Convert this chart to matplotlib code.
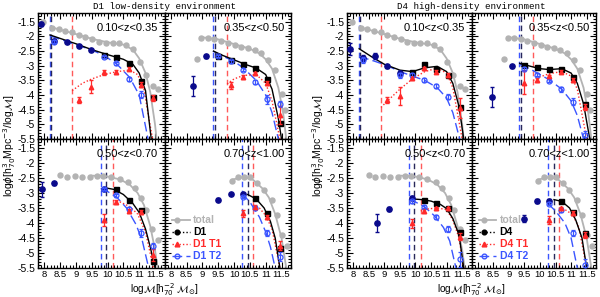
"""
Funciones de masa por entorno (D1 / D4) en cuatro bines de redshift.
"""
import numpy as np
import matplotlib
matplotlib.use("Agg")
import matplotlib.pyplot as plt
from matplotlib.ticker import MultipleLocator, FuncFormatter

nan = np.nan

ZBINS = ["0.10<z<0.35", "0.35<z<0.50", "0.50<z<0.70", "0.70<z<1.00"]
ENVS = ["D1", "D4"]
TITLES = ["D1 low-density environment", "D4 high-density environment"]

# función de masa total (gris), la misma en los dos entornos
TOT_X = [
    [7.95, 8.24, 8.45, 8.66, 8.88, 9.09, 9.30, 9.52, 9.73, 9.94, 10.16, 10.37, 10.58, 10.80, 11.01, 11.22, 11.43, 11.6],
    [8.84, 8.96, 9.17, 9.38, 9.59, 9.81, 10.02, 10.23, 10.44, 10.65, 10.86, 11.08, 11.29, 11.5, 11.62],
    [8.5, 8.71, 8.97, 9.18, 9.44, 9.67, 9.85, 10.12, 10.38, 10.65, 10.86, 11.07, 11.23, 11.42, 11.6],
    [9.95, 10.13, 10.32, 10.51, 10.73, 10.94, 11.2, 11.36, 11.52, 11.68],
]
TOT_Y = [
    [-1.5, -1.72, -1.76, -1.80, -1.86, -1.95, -2.03, -2.10, -2.18, -2.21, -2.24, -2.24, -2.29, -2.44, -2.86, -3.3, -3.7, -3.78],
    [-2.78, -2.07, -2.07, -2.1, -2.14, -2.21, -2.29, -2.35, -2.41, -2.46, -2.58, -2.8, -3.15, -3.95, -4.5],
    [-2.4, -2.48, -2.43, -2.45, -2.45, -2.43, -2.43, -2.48, -2.54, -2.62, -2.84, -3.18, -3.57, -4.2, -4.55],
    [-2.59, -2.48, -2.46, -2.48, -2.68, -2.9, -3.23, -3.73, -4.4, -4.75],
]
TOT_FIT_X = [
    [8.2, 8.6, 9.0, 9.5, 10.0, 10.5, 10.8, 11.0, 11.2, 11.35, 11.5, 11.55],
    [9.0, 9.5, 10.0, 10.5, 10.8, 11.0, 11.2, 11.4, 11.55, 11.65],
    [9.5, 10.0, 10.4, 10.7, 10.95, 11.15, 11.35, 11.5, 11.58],
    [9.95, 10.3, 10.6, 10.9, 11.1, 11.3, 11.5, 11.65],
]
TOT_FIT_Y = [
    [-1.68, -1.8, -1.92, -2.08, -2.2, -2.28, -2.45, -2.75, -3.25, -3.9, -5.0, -5.5],
    [-2.03, -2.1, -2.26, -2.42, -2.58, -2.78, -3.1, -3.75, -4.6, -5.5],
    [-2.42, -2.45, -2.55, -2.72, -3.0, -3.4, -4.1, -4.9, -5.5],
    [-2.55, -2.47, -2.56, -2.85, -3.15, -3.7, -4.5, -5.5],
]
# límites de completitud: azul (T2), negro (todas), rojo (T1)
LIM_T2 = [8.17, 9.33, 9.78, 10.25]
LIM_ALL = [8.21, 9.39, 9.94, 10.45]
LIM_T1 = [8.88, 9.78, 10.17, 10.6]

# puntos por debajo de la completitud (azul oscuro), claves "D1_0" ... "D4_3"
LOW_X = {
    "D1_0": [7.89, 8.3, 8.71, 9.1, 9.49], "D1_1": [8.71, 9.1],
    "D1_2": [7.93, 8.3, 9.89], "D1_3": [9.49, 9.89, 10.28],
    "D4_0": [7.9, 8.3, 8.71, 9.1, 9.49], "D4_1": [8.45, 9.1],
    "D4_2": [8.75, 9.15, 9.89], "D4_3": [9.49, 9.89, 10.28],
}
LOW_Y = {
    "D1_0": [-1.59, -2.15, -2.18, -2.32, -2.46], "D1_1": [-3.69, -2.67],
    "D1_2": [-2.88, -2.68, -2.87], "D1_3": [-3.23, -3.03, -3.03],
    "D4_0": [-2.44, -2.75, -2.67, -3.01, -3.25], "D4_1": [-4.06, -3.01],
    "D4_2": [-4.01, -3.54, -3.15], "D4_3": [-3.85, -3.26, -3.26],
}
LOW_E = {
    "D1_0": [0.07, 0.06, 0.03, 0.03, 0.03], "D1_1": [0.35, 0.05],
    "D1_2": [0.25, 0.04, 0.04], "D1_3": [0.05, 0.03, 0.03],
    "D4_0": [0.2, 0.1, 0.1, 0.05, 0.06], "D4_1": [0.35, 0.05],
    "D4_2": [0.3, 0.06, 0.06], "D4_3": [0.12, 0.06, 0.05],
}

# puntos del entorno: todas (negro), T1 (rojo), T2 (azul abierto)
PTS_X = {
    "D1_0": [8.3, 8.71, 9.1, 9.49, 9.89, 10.28, 10.67, 11.05, 11.44],
    "D1_1": [9.49, 9.89, 10.28, 10.67, 11.05, 11.44],
    "D1_2": [9.89, 10.28, 10.67, 11.05, 11.44],
    "D1_3": [10.28, 10.67, 11.05, 11.44],
    "D4_0": [8.3, 8.71, 9.1, 9.49, 9.89, 10.28, 10.67, 11.05, 11.44],
    "D4_1": [9.49, 9.89, 10.28, 10.67, 11.05, 11.44],
    "D4_2": [9.89, 10.28, 10.67, 11.05, 11.44],
    "D4_3": [10.28, 10.67, 11.05, 11.44],
}
ALL_Y = {
    "D1_0": [nan, nan, nan, nan, -2.63, -2.71, -2.92, -3.52, -4.08],
    "D1_1": [-2.67, -2.80, -2.94, -3.09, -3.45, -4.94],
    "D1_2": [nan, -2.87, -3.22, -3.57, -5.27],
    "D1_3": [nan, -3.16, -3.66, -4.84],
    "D4_0": [nan, nan, nan, nan, -3.2, -2.94, -3.12, -3.32, -4.42],
    "D4_1": [-2.97, -3.03, -3.12, -3.12, -3.4, -4.3],
    "D4_2": [nan, -3.23, -3.32, -3.51, -4.29],
    "D4_3": [nan, -3.26, -3.62, -4.32],
}
T1_Y = {
    "D1_0": [nan, nan, -4.17, -3.72, -3.23, -3.2, -3.1, -3.65, -4.1],
    "D1_1": [nan, -3.66, -3.39, -3.26, -3.58, -4.68],
    "D1_2": [-3.9, -3.29, -3.6, -3.64, -5.07],
    "D1_3": [-3.68, -3.46, -3.79, -4.75],
    "D4_0": [nan, nan, -4.17, -4.03, -3.43, -3.09, -3.2, -3.32, -4.45],
    "D4_1": [-3.58, -3.49, -3.35, -3.2, -3.49, -4.4],
    "D4_2": [-4.0, -3.6, -3.51, -3.51, -4.46],
    "D4_3": [-3.9, -3.51, -3.66, -4.4],
}
T1_E = {
    "D1_0": [0, 0, 0.1, 0.22, 0.07, 0.07, 0.06, 0.08, 0.1],
    "D1_1": [0, 0.12, 0.06, 0.05, 0.07, 0.3],
    "D1_2": [0.2, 0.07, 0.06, 0.07, 0.2],
    "D1_3": [0.12, 0.06, 0.07, 0.15],
    "D4_0": [0, 0, 0.1, 0.3, 0.06, 0.05, 0.06, 0.07, 0.35],
    "D4_1": [0.4, 0.06, 0.05, 0.05, 0.06, 0.1],
    "D4_2": [0.15, 0.07, 0.06, 0.06, 0.12],
    "D4_3": [0.12, 0.06, 0.06, 0.1],
}
T2_Y = {
    "D1_0": [-2.18, nan, nan, nan, -2.71, -2.92, -3.45, -3.99, nan],
    "D1_1": [-2.67, -2.85, -3.13, -3.55, -4.15, -4.3],
    "D1_2": [-2.87, -3.08, -3.52, -4.33, -4.75],
    "D1_3": [-3.14, -3.5, -4.32, -5.12],
    "D4_0": [-2.8, nan, nan, -3.33, -3.33, -3.49, -3.69, -4.05, nan],
    "D4_1": [-3.1, -3.3, -3.51, -3.8, -4.23, -5.36],
    "D4_2": [-3.27, -3.46, -3.81, -4.21, -5.2],
    "D4_3": [-3.36, -3.57, -4.34, -5.4],
}
T2_E = {
    "D1_0": [0.05, 0, 0, 0, 0.04, 0.05, 0.07, 0.12, 0],
    "D1_1": [0.04, 0.04, 0.05, 0.07, 0.15, 0.1],
    "D1_2": [0.04, 0.05, 0.07, 0.12, 0.1],
    "D1_3": [0.04, 0.06, 0.1, 0.15],
    "D4_0": [0.1, 0, 0, 0.08, 0.08, 0.07, 0.08, 0.1, 0],
    "D4_1": [0.05, 0.06, 0.06, 0.08, 0.12, 0.15],
    "D4_2": [0.05, 0.05, 0.07, 0.1, 0.25],
    "D4_3": [0.05, 0.06, 0.1, 0.2],
}

# ajustes (curvas)
ALL_FIT_X = {
    "D1_0": [8.18, 9.0, 9.5, 10.0, 10.5, 10.8, 11.0, 11.2, 11.38],
    "D1_1": [9.35, 9.6, 10.0, 10.4, 10.7, 11.0, 11.2, 11.4, 11.5],
    "D1_2": [9.94, 10.2, 10.5, 10.8, 11.0, 11.2, 11.35, 11.5],
    "D1_3": [10.43, 10.7, 10.95, 11.15, 11.3, 11.45],
    "D4_0": [8.19, 8.6, 9.0, 9.5, 9.9, 10.3, 10.7, 11.0, 11.2, 11.4, 11.55],
    "D4_1": [9.35, 9.7, 10.0, 10.3, 10.7, 11.0, 11.2, 11.4, 11.6],
    "D4_2": [9.94, 10.2, 10.5, 10.8, 11.0, 11.2, 11.4, 11.55],
    "D4_3": [10.45, 10.7, 10.95, 11.15, 11.35, 11.5],
}
ALL_FIT_Y = {
    "D1_0": [-1.95, -2.25, -2.45, -2.62, -2.78, -2.95, -3.25, -3.85, -5.5],
    "D1_1": [-2.5, -2.63, -2.8, -2.97, -3.08, -3.3, -3.8, -4.8, -5.5],
    "D1_2": [-2.83, -2.88, -3.05, -3.35, -3.65, -4.2, -4.8, -5.5],
    "D1_3": [-3.05, -3.2, -3.5, -3.95, -4.5, -5.5],
    "D4_0": [-2.42, -2.7, -2.95, -3.15, -3.2, -3.07, -3.02, -3.2, -3.6, -4.4, -5.5],
    "D4_1": [-2.92, -3.02, -3.1, -3.13, -3.1, -3.25, -3.6, -4.3, -5.5],
    "D4_2": [-3.2, -3.22, -3.27, -3.38, -3.52, -3.85, -4.4, -5.5],
    "D4_3": [-3.22, -3.28, -3.5, -3.9, -4.5, -5.5],
}
T1_FIT_X = {
    "D1_0": [8.88, 9.2, 9.5, 9.9, 10.3, 10.7, 10.95, 11.15, 11.42],
    "D1_1": [9.78, 10.0, 10.3, 10.7, 11.0, 11.2, 11.45],
    "D1_2": [10.17, 10.4, 10.7, 10.95, 11.2, 11.45],
    "D1_3": [10.6, 10.8, 11.0, 11.2, 11.45],
    "D4_0": [8.89, 9.2, 9.5, 9.9, 10.3, 10.7, 11.0, 11.2, 11.5],
    "D4_1": [9.78, 10.0, 10.3, 10.7, 11.0, 11.2, 11.5],
    "D4_2": [10.17, 10.4, 10.7, 11.0, 11.2, 11.4, 11.55],
    "D4_3": [10.6, 10.8, 11.05, 11.25, 11.5],
}
T1_FIT_Y = {
    "D1_0": [-3.85, -3.6, -3.45, -3.3, -3.2, -3.15, -3.3, -3.8, -5.5],
    "D1_1": [-3.62, -3.45, -3.33, -3.3, -3.6, -4.2, -5.5],
    "D1_2": [-3.25, -3.3, -3.45, -3.7, -4.3, -5.5],
    "D1_3": [-3.4, -3.5, -3.75, -4.2, -5.5],
    "D4_0": [-4.42, -4.1, -3.8, -3.45, -3.2, -3.08, -3.25, -3.75, -5.5],
    "D4_1": [-3.5, -3.38, -3.27, -3.2, -3.35, -3.8, -5.5],
    "D4_2": [-3.6, -3.53, -3.5, -3.55, -3.9, -4.5, -5.5],
    "D4_3": [-3.5, -3.55, -3.72, -4.15, -5.5],
}
T2_FIT_X = {
    "D1_0": [8.18, 9.0, 9.5, 9.9, 10.3, 10.7, 11.0, 11.28],
    "D1_1": [9.33, 9.7, 10.0, 10.3, 10.7, 11.0, 11.2, 11.4],
    "D1_2": [9.78, 10.0, 10.3, 10.6, 10.9, 11.1, 11.3],
    "D1_3": [10.23, 10.5, 10.8, 11.0, 11.15, 11.3],
    "D4_0": [8.19, 8.7, 9.1, 9.5, 9.9, 10.3, 10.7, 11.0, 11.2, 11.42],
    "D4_1": [9.35, 9.7, 10.0, 10.3, 10.7, 11.0, 11.2, 11.4],
    "D4_2": [9.79, 10.0, 10.3, 10.6, 10.9, 11.1, 11.3],
    "D4_3": [10.25, 10.5, 10.8, 11.0, 11.2],
}
T2_FIT_Y = {
    "D1_0": [-1.98, -2.28, -2.46, -2.66, -2.95, -3.4, -4.0, -5.5],
    "D1_1": [-2.5, -2.7, -2.85, -3.08, -3.5, -4.0, -4.6, -5.5],
    "D1_2": [-2.85, -2.95, -3.15, -3.5, -4.05, -4.6, -5.5],
    "D1_3": [-3.0, -3.3, -3.8, -4.3, -4.8, -5.5],
    "D4_0": [-2.68, -2.85, -3.0, -3.2, -3.35, -3.5, -3.75, -4.1, -4.6, -5.5],
    "D4_1": [-2.95, -3.12, -3.3, -3.48, -3.8, -4.2, -4.7, -5.5],
    "D4_2": [-3.2, -3.3, -3.47, -3.75, -4.15, -4.6, -5.5],
    "D4_3": [-3.35, -3.6, -4.0, -4.5, -5.5],
}

GREY = "#b3b3b3"
RED = "#ff2a2a"
BLUE = "#3b55ff"
NAVY = "#0a0a8c"

plt.rcParams["font.family"] = ["Liberation Sans", "DejaVu Sans"]
plt.rcParams["mathtext.fontset"] = "dejavusans"

fig = plt.figure(figsize=(6.0, 2.97), dpi=100)

left_px = [38, 347]
width_px = [126.5, 124.5]
rows_px = [(13, 139), (139, 268)]
fmt = FuncFormatter(lambda v, p: ("%g" % v).replace("\u2212", "-"))

for g, env in enumerate(ENVS):
    for k in range(4):
        r, c = divmod(k, 2)
        x0 = (left_px[g] + c * width_px[g]) / 600
        y_top, y_bot = rows_px[r]
        ax = fig.add_axes([x0, 1 - y_bot / 297, width_px[g] / 600, (y_bot - y_top) / 297])
        key = "%s_%d" % (env, k)

        for xv, col in zip([LIM_T2[k], LIM_ALL[k], LIM_T1[k]], [BLUE, "#28285a", "#ff5a5a"]):
            ax.axvline(xv, color=col, ls=(0, (4, 2.5)), lw=1.0, zorder=1)

        ax.plot(TOT_FIT_X[k], TOT_FIT_Y[k], color=GREY, lw=1.3, zorder=2)
        ax.plot(TOT_X[k], TOT_Y[k], "o", color=GREY, ms=3.6, zorder=3)

        ax.plot(T2_FIT_X[key], T2_FIT_Y[key], color=BLUE, lw=1.0, ls=(0, (7, 3)), zorder=4)
        ax.plot(T1_FIT_X[key], T1_FIT_Y[key], color=RED, lw=1.0, ls=(0, (1, 1.5)), zorder=4)
        ax.plot(ALL_FIT_X[key], ALL_FIT_Y[key], color="black", lw=1.0, zorder=5)

        px = np.array(PTS_X[key])
        ax.errorbar(LOW_X[key], LOW_Y[key], yerr=LOW_E[key], fmt="o", color=NAVY,
                    ms=3.8, lw=0.9, capsize=1.5, zorder=6)
        ax.plot(px, ALL_Y[key], "s", color="black", ms=3.6, zorder=6)
        ax.errorbar(px, T2_Y[key], yerr=T2_E[key], fmt="o", mfc="none", mec=BLUE,
                    color=BLUE, ms=3.6, mew=0.9, lw=0.9, capsize=1.5, zorder=7)
        ax.errorbar(px, T1_Y[key], yerr=T1_E[key], fmt="^", color=RED,
                    ms=3.2, lw=0.9, capsize=1.5, zorder=7)

        ax.set_xlim(7.8, 11.8)
        ax.set_ylim(-5.5, -1.2)
        ax.xaxis.set_major_locator(MultipleLocator(0.5))
        ax.xaxis.set_minor_locator(MultipleLocator(0.1))
        ax.yaxis.set_major_locator(MultipleLocator(0.5))
        ax.yaxis.set_minor_locator(MultipleLocator(0.1))
        ax.tick_params(which="both", direction="in", top=True, right=True,
                       labelsize=7.5, pad=2, width=0.8)
        ax.tick_params(axis="x", labelsize=6.8, pad=1.5)
        ax.tick_params(which="major", length=4)
        ax.tick_params(which="minor", length=2)
        for s in ax.spines.values():
            s.set_linewidth(1.0)
        ax.xaxis.set_major_formatter(fmt)
        ax.yaxis.set_major_formatter(fmt)
        if c == 1:
            ax.tick_params(labelleft=False)
        if r == 0:
            ax.tick_params(labelbottom=False)

        ax.text(0.95, 0.88, ZBINS[k], transform=ax.transAxes, ha="right",
                va="center", fontsize=8)

        if k == 3:
            labels = ["total", env, env + " T1", env + " T2"]
            cols = [GREY, "black", RED, BLUE]
            styles = ["-", (0, (1, 1.5)), (0, (1, 1.5)), (0, (7, 3))]
            marks = ["o", "o", "^", "o"]
            ys = [0.37, 0.28, 0.185, 0.09]
            for lab, col, st, mk, yy in zip(labels, cols, styles, marks, ys):
                ax.plot([0.06, 0.2], [yy, yy], transform=ax.transAxes, color=col,
                        ls=st, lw=1.0 if col != GREY else 1.3, zorder=8)
                ax.plot([0.1], [yy], transform=ax.transAxes, marker=mk, color=col,
                        mfc="none" if col == BLUE else col, ms=3.4, zorder=8)
                ax.text(0.225, yy, lab, transform=ax.transAxes, color=col,
                        fontsize=7.5, va="center", ha="left", fontweight="bold")

    xc = (left_px[g] + width_px[g]) / 600
    fig.text(xc, 0.978, TITLES[g], ha="center", va="center", fontsize=6.6,
             family="Liberation Mono")
    fig.text(xc, 0.026, r"log$\mathcal{M}$[h$^{-2}_{70}$ $\mathcal{M}_{\odot}$]",
             ha="center", va="center", fontsize=7.2)
    fig.text(left_px[g] / 600 - 0.048, 0.51,
             r"log$\phi$[h$^{3}_{70}$Mpc$^{-3}$/log$\mathcal{M}$]",
             rotation=90, ha="center", va="center", fontsize=7.5)

fig.savefig("out.png", dpi=100)
